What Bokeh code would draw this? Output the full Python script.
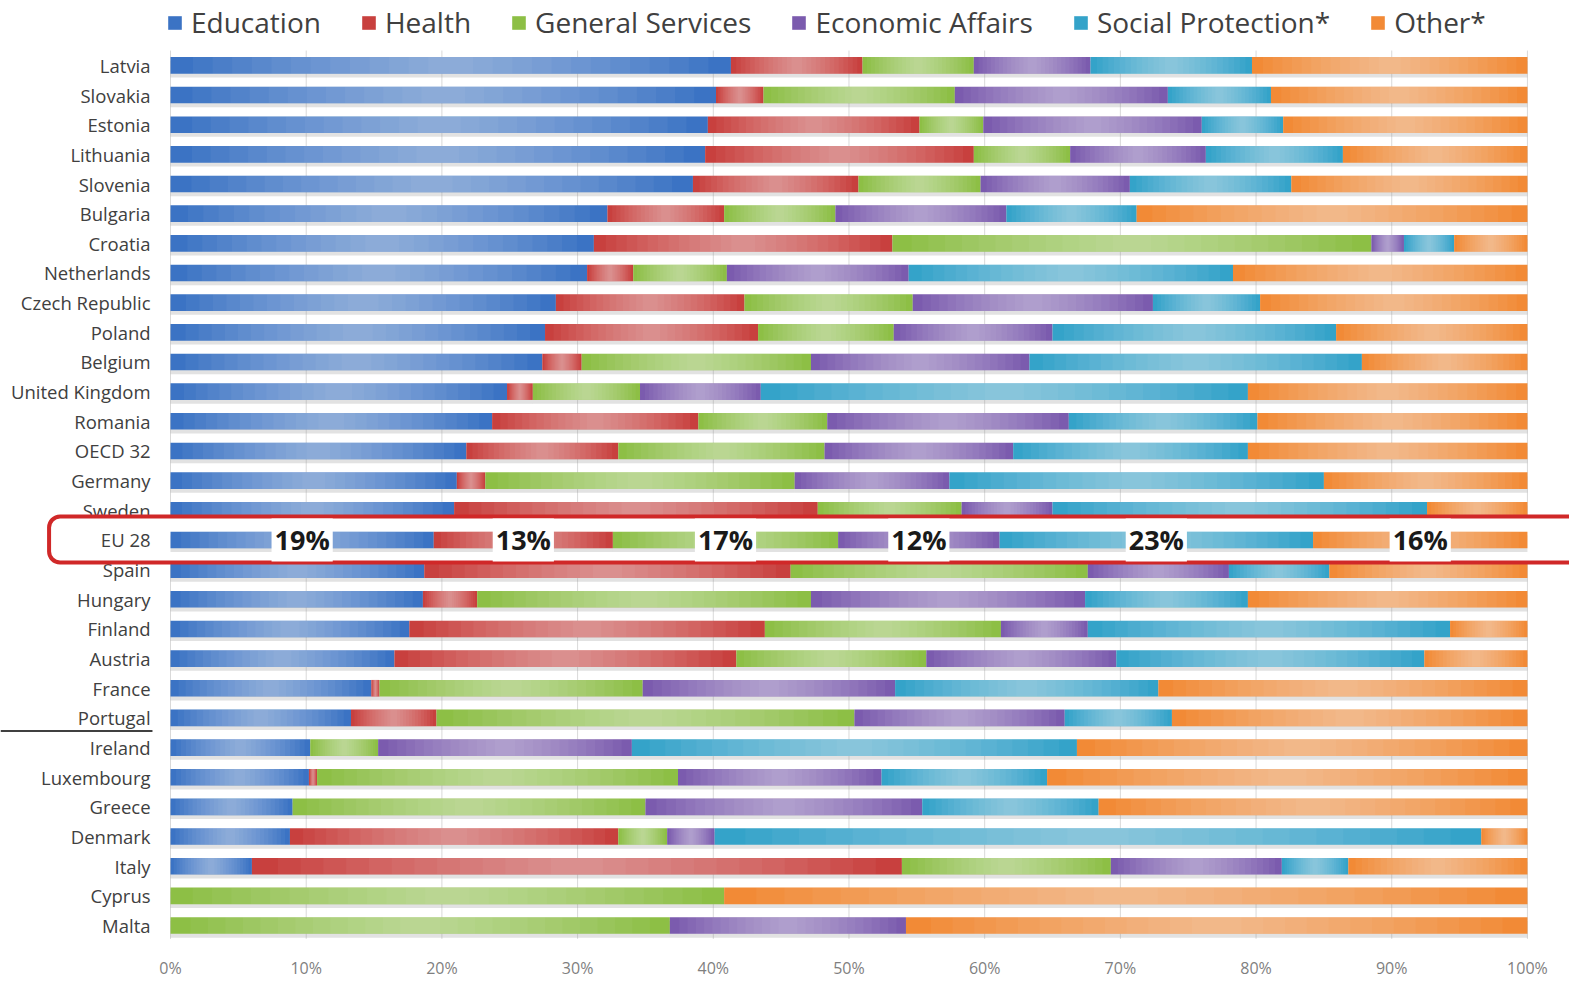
from bokeh.plotting import figure
from bokeh.models import Range1d, ColumnDataSource, Legend, LegendItem, BoxAnnotation
from bokeh.core.properties import value
from bokeh.embed import file_html
from bokeh.resources import INLINE

countries = ["Latvia", "Slovakia", "Estonia", "Lithuania", "Slovenia", "Bulgaria", "Croatia",
             "Netherlands", "Czech Republic", "Poland", "Belgium", "United Kingdom", "Romania",
             "OECD 32", "Germany", "Sweden", "EU 28", "Spain", "Hungary", "Finland", "Austria",
             "France", "Portugal", "Ireland", "Luxembourg", "Greece", "Denmark", "Italy",
             "Cyprus", "Malta"]
education = [41.3, 40.2, 39.6, 39.4, 38.5, 32.2, 31.2, 30.7, 28.4, 27.6, 27.4, 24.8, 23.7,
             21.8, 21.1, 20.9, 19.4, 18.7, 18.6, 17.6, 16.5, 14.8, 13.3, 10.3, 10.2, 9.0,
             8.8, 6.0, 0.0, 0.0]
health = [9.7, 3.5, 15.6, 19.8, 12.2, 8.6, 22.0, 3.4, 13.9, 15.7, 2.9, 1.9, 15.2,
          11.2, 2.1, 26.8, 13.2, 27.0, 4.0, 26.2, 25.2, 0.6, 6.3, 0.0, 0.6, 0.0,
          24.2, 47.9, 0.0, 0.0]
general_services = [8.2, 14.1, 4.7, 7.1, 9.0, 8.2, 35.3, 6.9, 12.4, 10.0, 16.9, 7.9, 9.5,
                    15.2, 22.8, 10.6, 16.6, 21.9, 24.6, 17.4, 14.0, 19.4, 30.8, 5.0, 26.6, 26.0,
                    3.6, 15.4, 40.8, 36.8]
economic_affairs = [8.6, 15.7, 16.1, 10.0, 11.0, 12.6, 2.4, 13.4, 17.7, 11.7, 16.1, 8.9, 17.8,
                    13.9, 11.4, 6.7, 11.9, 10.4, 20.2, 6.4, 14.0, 18.6, 15.5, 18.7, 15.0, 20.4,
                    3.5, 12.6, 0.0, 17.4]
social_protection = [11.9, 7.6, 6.0, 10.1, 11.9, 9.6, 3.7, 23.9, 7.9, 20.9, 24.5, 35.9, 13.9,
                     17.3, 27.6, 27.6, 23.1, 7.4, 12.0, 26.7, 22.7, 19.4, 7.9, 32.8, 12.2, 13.0,
                     56.5, 4.9, 0.0, 0.0]
other = [20.3, 18.9, 18.0, 13.6, 17.4, 28.8, 5.4, 21.7, 19.7, 14.1, 12.2, 20.6, 19.9,
         20.6, 15.0, 7.4, 15.8, 14.6, 20.6, 5.7, 7.6, 27.2, 26.2, 33.2, 35.4, 31.6,
         3.4, 13.2, 59.2, 45.8]

categories = ["Education", "Health", "General Services", "Economic Affairs",
              "Social Protection*", "Other*"]
colors = ["#3B73C4", "#C8403E", "#8DBF45", "#7B5BAE", "#34A3C9", "#F28A36"]
x_ticks = [0, 10, 20, 30, 40, 50, 60, 70, 80, 90, 100]
tick_labels = ["0%", "10%", "20%", "30%", "40%", "50%", "60%", "70%", "80%", "90%", "100%"]
highlight = "EU 28"

series = [education, health, general_services, economic_affairs, social_protection, other]
n = len(countries)
ys = [n - 1 - i for i in range(n)]
hi = countries.index(highlight)

FONT = "Open Sans"
BAR_H = 0.56
SHEEN = [0.92, 0.85, 0.78, 0.71, 0.64, 0.57, 0.5, 0.43, 0.36, 0.29, 0.22, 0.15, 0.08]
SHEEN_ALPHA = 0.045

p = figure(width=1569, height=981, output_backend="svg", toolbar_location=None,
           x_range=Range1d(-12.53, 103.10), y_range=Range1d(-0.7065, 31.187),
           y_axis_location=None, min_border_left=0, min_border_right=0,
           min_border_top=0, min_border_bottom=33, outline_line_color=None,
           background_fill_color="white", border_fill_color="white")
p.xgrid.visible = False
p.ygrid.visible = False

ax = p.xaxis[0]
ax.ticker = x_ticks
ax.major_label_overrides = {t: l for t, l in zip(x_ticks, tick_labels)}
ax.axis_line_color = None
ax.major_tick_line_color = None
ax.minor_tick_line_color = None
ax.major_tick_in = 0
ax.major_tick_out = 0
ax.major_label_standoff = 10
ax.major_label_text_font = FONT
ax.major_label_text_font_size = "16px"
ax.major_label_text_color = "#7F7F7F"

# vertical gridlines
p.segment(x0=x_ticks, x1=x_ticks, y0=[-0.45] * len(x_ticks), y1=[n - 1 + 0.5] * len(x_ticks),
          line_color="#D9D9D9", line_width=1)


def build(rows, level):
    renderers = []
    cum = [0.0] * len(rows)
    for k, (vals, col) in enumerate(zip(series, colors)):
        left, right, yy, cen, w = [], [], [], [], []
        for j, r in enumerate(rows):
            v = vals[r]
            if v > 0:
                left.append(cum[j])
                right.append(cum[j] + v)
                yy.append(ys[r])
                cen.append(cum[j] + v / 2)
                w.append(v)
            cum[j] += v
        src = ColumnDataSource(dict(left=left, right=right, y=yy))
        # soft shadow below bars
        sh = p.hbar(y=[y - 0.13 for y in yy], left=left, right=right, height=BAR_H,
                    fill_color="#8C8C8C", fill_alpha=0.25, line_color=None)
        r = p.hbar(y="y", left="left", right="right", height=BAR_H, source=src,
                   fill_color=col, line_color=None)
        layers = [sh, r]
        # glossy sheen, brighter toward the centre of each segment
        for f in SHEEN:
            layers.append(p.hbar(y=yy, left=[c - f * ww / 2 for c, ww in zip(cen, w)],
                                 right=[c + f * ww / 2 for c, ww in zip(cen, w)],
                                 height=BAR_H, fill_color="white", fill_alpha=SHEEN_ALPHA,
                                 line_color=None))
        for lr in layers:
            lr.level = level
        renderers.append(r)
    return renderers


others_rows = [i for i in range(n) if i != hi]
main_renderers = build(others_rows, "glyph")

LBL_SIZE = "18.5px"
p.text(x=[-1.47] * len(others_rows), y=[ys[i] for i in others_rows],
       text=[countries[i] for i in others_rows],
       text_align="right", text_baseline="middle", text_font=value(FONT),
       text_font_size=LBL_SIZE, text_color="#404040")

# line at the left under Portugal (as in the source image)
pi = countries.index("Portugal")
p.segment(x0=[-12.53], x1=[-1.33], y0=[ys[pi] - 0.44], y1=[ys[pi] - 0.44],
          line_color="black", line_width=1.5)

box = BoxAnnotation(left=-8.95, right=110, bottom=ys[hi] - 0.76, top=ys[hi] + 0.79,
                    fill_color="white", fill_alpha=1.0, line_color="#D02828", line_alpha=1.0,
                    line_width=4, border_radius=11, level="glyph")
p.add_layout(box)

build([hi], "annotation")
t1 = p.text(x=[-1.47], y=[ys[hi]], text=[highlight], text_align="right", text_baseline="middle",
            text_font=value(FONT), text_font_size=LBL_SIZE, text_color="#404040")
t1.level = "annotation"

cum = 0.0
cx, labs = [], []
for vals in series:
    v = vals[hi]
    cx.append(cum + v / 2)
    labs.append(f"{round(v)}%")
    cum += v
t2 = p.text(x=cx, y=[ys[hi]] * len(cx), text=labs, text_align="center", text_baseline="middle",
            text_font=value(FONT), text_font_size="27px", text_font_style="bold",
            text_color="#1A1A1A", background_fill_color="white", padding=3)
t2.level = "annotation"

legend = Legend(items=[LegendItem(label=c, renderers=[r]) for c, r in zip(categories, main_renderers)],
                orientation="horizontal", location=(166, 905), label_text_font=FONT,
                label_text_font_size="28px", label_text_color="#404040", glyph_width=17,
                glyph_height=17, label_standoff=8, spacing=39, padding=0, margin=0,
                border_line_color=None, background_fill_alpha=0)
p.add_layout(legend, "center")

open("out.html", "w").write(file_html(p, INLINE))
